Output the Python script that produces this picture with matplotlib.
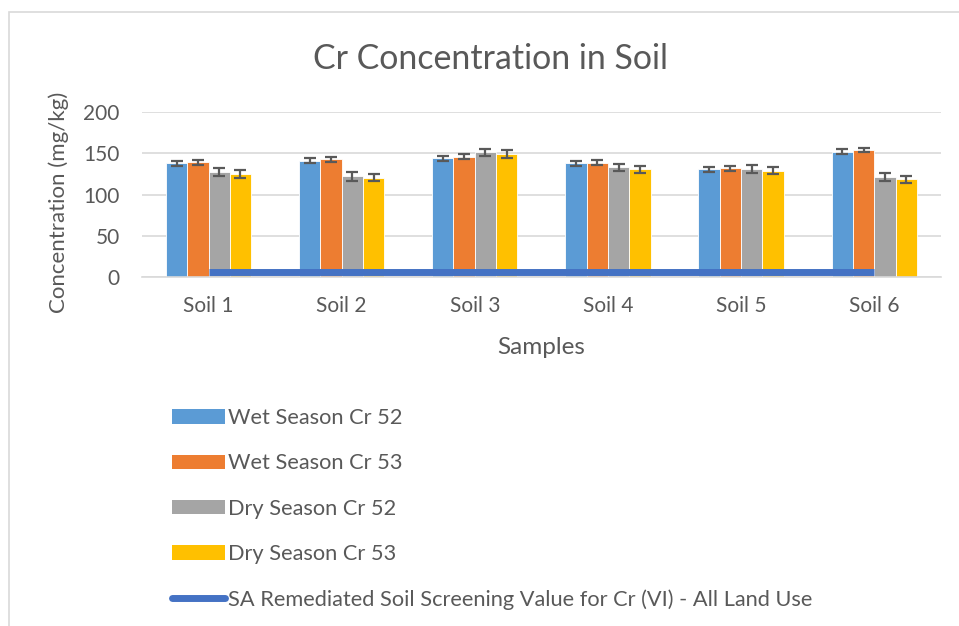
import numpy as np
import matplotlib
matplotlib.use("Agg")
import matplotlib.pyplot as plt
from matplotlib.patches import Patch, Rectangle
from matplotlib.lines import Line2D

plt.rcParams['font.family'] = ['Lato', 'DejaVu Sans']

samples = ["Soil 1", "Soil 2", "Soil 3", "Soil 4", "Soil 5", "Soil 6"]
wet_52 = [138, 141, 144, 138, 130.5, 152]
wet_53 = [139, 143, 146, 138.5, 132, 154]
dry_52 = [127, 122, 151, 133, 131, 121]
dry_53 = [125, 120.5, 149, 130.5, 129, 118.5]
err_wet_52 = [3, 3, 3, 3, 3, 3]
err_wet_53 = [3, 3, 3, 3, 3, 3]
err_dry_52 = [5, 5, 4.5, 4.5, 4.5, 4.5]
err_dry_53 = [4.5, 4.5, 4.5, 4.5, 4.5, 4.5]
screening = [6.5, 6.5, 6.5, 6.5, 6.5, 6.5]

series = [
    ("Wet Season Cr 52", wet_52, err_wet_52, "#5B9BD5"),
    ("Wet Season Cr 53", wet_53, err_wet_53, "#ED7D31"),
    ("Dry Season Cr 52", dry_52, err_dry_52, "#A5A5A5"),
    ("Dry Season Cr 53", dry_53, err_dry_53, "#FFC000"),
]
line_label = "SA Remediated Soil Screening Value for Cr (VI) - All Land Use"
line_color = "#4472C4"
text_color = "#595959"

fig = plt.figure(figsize=(9.59, 6.26), dpi=100)
ax = fig.add_axes([0.148, 0.5575, 0.833, 0.2635])

# chart frame
fig.patches.append(Rectangle((9 / 959, -0.05), 1.0, 1 - 12 / 626 + 0.05,
                             transform=fig.transFigure, fill=False,
                             edgecolor="#d9d9d9", lw=1.2))

x = np.arange(len(samples))
w = 0.16
for i, (name, vals, errs, col) in enumerate(series):
    pos = x + (i - 1.5) * w
    ax.bar(pos, vals, width=w, color=col, edgecolor="white", linewidth=0.6, zorder=2)
    ax.errorbar(pos, vals, yerr=errs, fmt="none", ecolor="#595959",
                elinewidth=1.6, capsize=4.5, capthick=1.6, zorder=3)

ax.plot(x, screening, color=line_color, lw=5, solid_capstyle="butt", zorder=4)

ax.set_xlim(-0.5, 5.5)
ax.set_ylim(0, 200)
ax.set_yticks([0, 50, 100, 150, 200])
ax.set_xticks(x)
ax.set_xticklabels(samples)
ax.yaxis.grid(True, color="#d9d9d9", lw=1.2, zorder=0)
ax.set_axisbelow(True)
for s in ["top", "right", "left"]:
    ax.spines[s].set_visible(False)
ax.spines["bottom"].set_color("#d9d9d9")
ax.spines["bottom"].set_linewidth(1.2)
ax.tick_params(length=0, labelsize=15, colors=text_color)
ax.tick_params(axis="x", pad=14)
ax.tick_params(axis="y", pad=16)

fig.text(59 / 959, 1 - 202 / 626, "Concentration (mg/kg)", rotation=90,
         ha="center", va="center", fontsize=16, color=text_color)
fig.text(541 / 959, 1 - 348 / 626, "Samples", ha="center", va="center",
         fontsize=17.5, color=text_color)
fig.text(490.5 / 959, 1 - 59 / 626, "Cr Concentration in Soil", ha="center",
         va="center", fontsize=24.4, color=text_color)

handles = [Patch(facecolor=col, edgecolor="none") for _, _, _, col in series]
handles.append(Line2D([0], [0], color=line_color, lw=5, solid_capstyle="round"))
labels = [s[0] for s in series] + [line_label]
fig.legend(handles, labels, loc="upper left", bbox_to_anchor=(172 / 959, 0.348),
           frameon=False, fontsize=15.7, labelcolor=text_color,
           handlelength=2.43, handleheight=0.64, handletextpad=0.15,
           labelspacing=1.16, borderaxespad=0, borderpad=0)

fig.savefig("out.png", dpi=100)
